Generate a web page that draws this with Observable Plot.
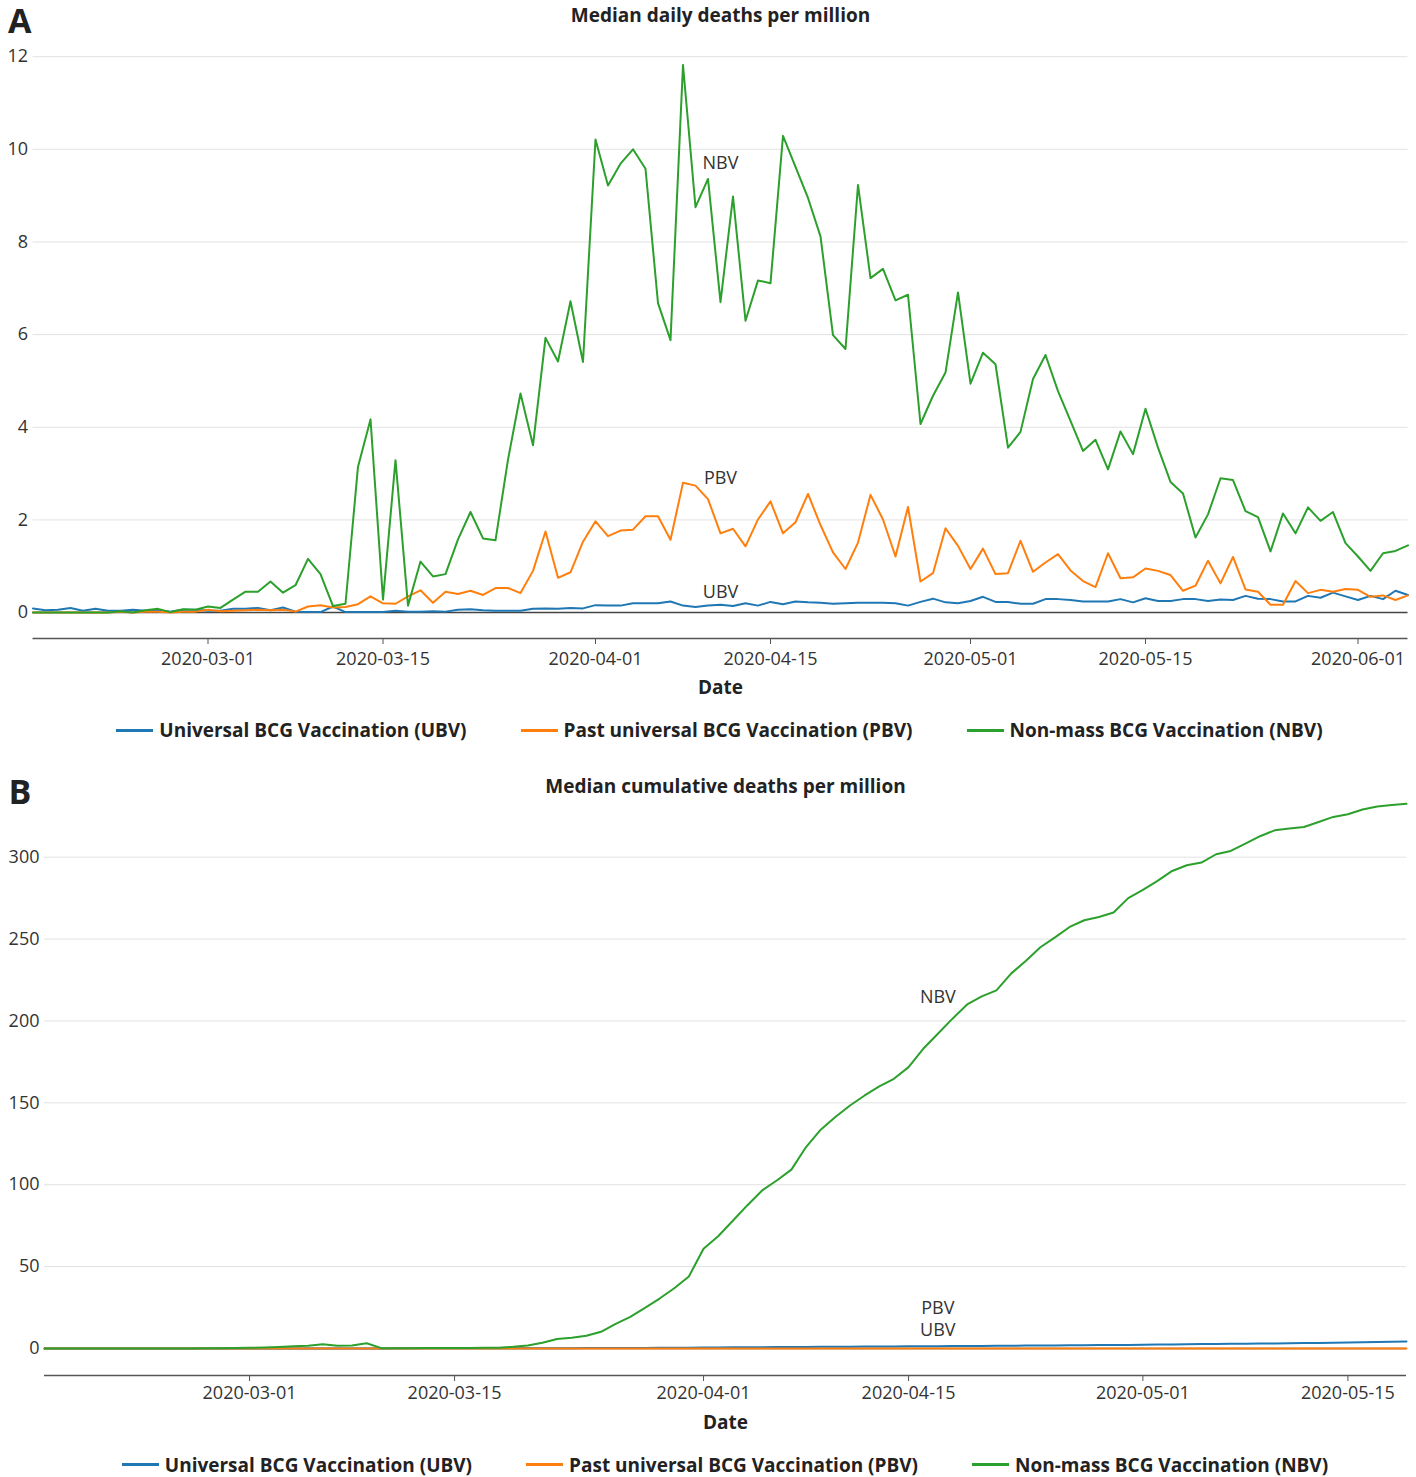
<!DOCTYPE html>
<html><head><meta charset="utf-8">
<script src="https://cdn.jsdelivr.net/npm/d3@7"></script>
<script src="https://cdn.jsdelivr.net/npm/@observablehq/plot@0.6"></script>
<style>
body{margin:0;background:#fff;font-family:"Open Sans",sans-serif;}
#wrap{width:1416px;}
.legend{display:flex;justify-content:center;align-items:center;font-weight:bold;font-size:19px;color:#222;font-family:"Open Sans",sans-serif;}
.item{display:flex;align-items:center;margin:0 27px;white-space:nowrap;}
.sw{width:37px;height:3px;margin-right:6px;}
svg text{font-family:"Open Sans",sans-serif;}
</style></head><body><div id="wrap"></div>
<script>
// ---------- data ----------
const startDate = "2020-02-16";
const seriesKeys = ["UBV", "PBV", "NBV"];
const seriesNames = ["Universal BCG Vaccination (UBV)", "Past universal BCG Vaccination (PBV)", "Non-mass BCG Vaccination (NBV)"];
const seriesColors = ["#1f77b4", "#ff7f0e", "#2ca02c"];

// Panel A: median daily deaths per million (2020-02-16 .. 2020-06-05)
const ubvDaily = [0.09,0.05,0.06,0.10,0.04,0.08,0.04,0.04,0.06,0.04,0.05,0.02,0.06,0.06,0.04,0.04,0.08,0.08,0.10,
0.05,0.11,0.02,0.01,0.01,0.13,0.01,0.01,0.01,0.01,0.04,0.02,0.02,0.03,0.02,0.06,0.07,
0.05,0.04,0.04,0.04,0.08,0.09,0.08,0.10,0.09,0.16,0.15,0.15,0.20,0.20,0.20,0.24,0.15,0.12,0.15,
0.17,0.14,0.20,0.15,0.23,0.18,0.24,0.22,0.21,0.19,0.20,0.21,0.21,0.21,0.20,0.15,0.23,0.30,
0.22,0.20,0.25,0.34,0.23,0.23,0.19,0.19,0.29,0.29,0.27,0.24,0.24,0.24,0.29,0.22,0.31,0.25,
0.25,0.29,0.29,0.25,0.28,0.27,0.36,0.30,0.29,0.24,0.24,0.36,0.32,0.43,0.35,0.27,0.36,0.29,0.47,0.38];
const pbvDaily = [0,0,0,0,0,0,0,0.02,0,0.02,0.02,0,0.02,0.02,0.06,0.03,0.04,0.05,0.06,0.05,0.06,
0.02,0.13,0.16,0.11,0.12,0.18,0.35,0.20,0.19,0.35,0.48,0.21,0.45,0.40,0.47,
0.38,0.53,0.53,0.42,0.90,1.75,0.75,0.87,1.53,1.97,1.65,1.77,1.79,2.08,2.08,1.57,2.80,2.74,2.45,
1.71,1.81,1.43,2.01,2.40,1.71,1.95,2.56,1.89,1.30,0.94,1.51,2.54,2.01,1.21,2.28,0.67,0.85,
1.82,1.44,0.94,1.38,0.83,0.85,1.55,0.88,1.08,1.26,0.91,0.68,0.55,1.28,0.74,0.76,0.95,0.90,
0.81,0.47,0.58,1.12,0.63,1.20,0.50,0.45,0.17,0.17,0.68,0.42,0.49,0.45,0.51,0.49,0.34,0.37,0.27,0.37];
const nbvDaily = [0,0,0,0,0,0,0,0.03,0,0.05,0.08,0.01,0.07,0.06,0.13,0.10,0.28,0.45,0.45,
0.67,0.43,0.59,1.16,0.83,0.14,0.19,3.15,4.17,0.28,3.29,0.15,
1.10,0.78,0.83,1.58,2.17,1.60,1.56,3.30,4.73,3.61,5.93,5.42,6.72,5.41,
10.21,9.22,9.69,10.00,9.58,6.68,5.88,11.82,8.75,9.36,
6.70,8.98,6.30,7.17,7.11,10.29,9.62,8.95,8.12,5.99,5.69,9.23,7.22,7.42,6.74,6.86,4.07,
4.68,5.18,6.91,4.94,5.61,5.36,3.56,3.90,5.04,5.56,4.78,4.14,3.49,3.73,3.09,3.91,3.42,4.40,
3.56,2.82,2.57,1.62,2.12,2.90,2.86,2.19,2.06,1.32,2.14,1.71,2.27,1.98,2.17,1.50,1.21,0.90,1.28,1.33,1.45];

// Panel B: median cumulative deaths per million (2020-02-16 .. 2020-05-19)
const ubvCum = [0,0,0,0,0,0,0,0,0,0,0,0,0,0,0,0.01,0.02,0.02,0.03,0.03,
0.04,0.05,0.05,0.06,0.07,0.08,0.08,0.09,0.10,0.11,
0.12,0.13,0.14,0.15,0.17,0.19,0.21,0.23,0.25,0.28,
0.31,0.35,0.40,0.44,0.50,0.56,0.62,0.68,0.73,0.79,
0.85,0.90,0.95,1.00,1.05,1.10,1.16,1.20,1.25,1.30,
1.35,1.40,1.46,1.52,1.58,1.64,1.70,1.76,1.82,1.88,
1.94,2.00,2.06,2.12,2.20,2.30,2.40,2.50,2.58,2.66,
2.74,2.82,2.90,3.00,3.10,3.20,3.30,3.40,3.50,3.60,
3.75,3.90,4.05,4.20];
const pbvCum = [0,0,0,0,0,0,0,0,0,0,0,0,0,0,0,0,0,0,0,0,0,0,0,0,0,0,0,0,0,0,0,
0,0,0,0,0,0,0,0,0,0,0,0,0,0,0,0,0,0,0,0,0,0,0,0,0,0,0,0,0,0,0,
0,0,0,0,0,0,0,0,0,0,0,0,0,0,0,0,0,0,0,0,0,0,0,0,0,0,0,0,0,0,0,0];
const nbvCum = [0,0,0,0,0,0,0,0,0,0,
0.05,0.1,0.2,0.3,0.45,0.6,0.9,1.3,1.7,2.6,1.6,1.8,3.2,0.2,
0.2,0.2,0.25,0.3,0.3,0.35,0.4,0.4,1.0,1.8,3.5,5.8,6.5,7.8,10.2,15.0,19.3,24.8,30.5,36.8,44.0,
60.9,68.5,78,87.5,96.5,102.6,109.2,123,133.6,141.3,148.4,154.5,160,164.7,171.8,
183,192.2,201.4,210.1,215,218.7,228.9,236.6,245,251,257.4,261.5,263.5,266.2,275,280,285.5,291.6,295.1,296.7,
301.8,303.8,308.3,312.8,316.4,317.5,318.4,321.5,324.6,326.2,329.1,331.0,331.8,332.6];

// axes ticks
const xTicksA = ["2020-03-01","2020-03-15","2020-04-01","2020-04-15","2020-05-01","2020-05-15","2020-06-01"];
const xTicksB = ["2020-03-01","2020-03-15","2020-04-01","2020-04-15","2020-05-01","2020-05-15"];
const yTicksA = [0,2,4,6,8,10,12];
const yTicksB = [0,50,100,150,200,250,300];

// in-chart series labels (annotation anchors)
const labelDateA = "2020-04-11";
const labelValuesA = {NBV: 9.69, PBV: 2.91, UBV: 0.43};
const labelDateB = "2020-04-17";
const labelValuesB = {NBV: 214.4, PBV: 24.4, UBV: 11.0};

// ---------- build ----------
const parse = d3.utcParse("%Y-%m-%d");
const t0 = parse(startDate);
function longTable(arrs) {
  const out = [];
  arrs.forEach((arr, k) => arr.forEach((v, i) => out.push({date: d3.utcDay.offset(t0, i), value: v, series: seriesKeys[k]})));
  return out;
}
const tableA = longTable([ubvDaily, pbvDaily, nbvDaily]);
const tableB = longTable([ubvCum, pbvCum, nbvCum]);
const endA = d3.utcDay.offset(t0, nbvDaily.length - 1);
const endB = d3.utcDay.offset(t0, nbvCum.length - 1);
const labelsA = seriesKeys.map(k => ({date: parse(labelDateA), value: labelValuesA[k], name: k}));
const labelsB = seriesKeys.map(k => ({date: parse(labelDateB), value: labelValuesB[k], name: k}));
const fmt = d3.utcFormat("%Y-%m-%d");

function panel(o) {
  return Plot.plot({
    width: 1416, height: o.height,
    marginLeft: o.ml, marginRight: o.mr, marginTop: o.mt, marginBottom: o.mb,
    style: {fontFamily: "Open Sans, sans-serif", fontSize: "18px", color: "#333", background: "white", overflow: "visible"},
    x: {type: "utc", domain: o.xdom},
    y: {domain: o.ydom},
    color: {domain: seriesKeys, range: seriesColors},
    marks: [
      Plot.gridY(o.yticks, {stroke: "#e2e2e2", strokeOpacity: 1, strokeWidth: 1}),
      Plot.ruleY([0], {stroke: "#444", strokeWidth: 1.5}),
      Plot.ruleY([o.ydom[0]], {stroke: "#555", strokeWidth: 1.5}),
      Plot.line(o.data, {x: "date", y: "value", z: "series", stroke: "series", strokeWidth: 2}),
      Plot.axisY(o.yticks, {tickSize: 0, tickPadding: 5, fontSize: 18, label: null}),
      Plot.axisX(o.xticks.map(parse), {tickSize: 6, tickPadding: o.tp, tickFormat: fmt, fontSize: 18, label: null, stroke: "#555"}),
      Plot.text(o.labels, {x: "date", y: "value", text: "name", fontSize: 18, fill: "#333"}),
      Plot.text(["Date"], {frameAnchor: "bottom", lineAnchor: "middle", dy: o.dateDy, fontWeight: "bold", fontSize: 19, fill: "#222"}),
      Plot.text([o.title], {frameAnchor: "top", lineAnchor: "middle", dy: o.titleDy, fontWeight: "bold", fontSize: 19, fill: "#222"}),
      Plot.text([o.letter], {frameAnchor: "top-left", lineAnchor: "middle", textAnchor: "start", dx: o.letterDx, dy: o.letterDy, fontWeight: "bold", fontSize: 34, fill: "#222"})
    ]
  });
}

function legend(h, shift) {
  const div = document.createElement("div");
  div.className = "legend";
  div.style.height = h + "px";
  div.style.paddingLeft = shift + "px";
  seriesNames.forEach((n, k) => {
    const it = document.createElement("div");
    it.className = "item";
    const sw = document.createElement("div");
    sw.className = "sw";
    sw.style.background = seriesColors[k];
    const tx = document.createElement("span");
    tx.textContent = n;
    it.appendChild(sw); it.appendChild(tx);
    div.appendChild(it);
  });
  return div;
}

const wrap = document.getElementById("wrap");
wrap.appendChild(panel({
  height: 700, ml: 32.5, mr: 8.5, mt: 33, mb: 62,
  xdom: [t0, endA], ydom: [-0.56, 12.5], yticks: yTicksA, xticks: xTicksA, tp: 8,
  data: tableA, labels: labelsA, dateDy: 49, title: "Median daily deaths per million", titleDy: -18,
  letter: "A", letterDx: -25, letterDy: -11
}));
wrap.appendChild(legend(60, 23));
wrap.appendChild(panel({
  height: 680, ml: 44, mr: 10, mt: 23, mb: 65,
  xdom: [t0, endB], ydom: [-16.5, 345], yticks: yTicksB, xticks: xTicksB, tp: 5,
  data: tableB, labels: labelsB, dateDy: 47, title: "Median cumulative deaths per million", titleDy: 3,
  letter: "B", letterDx: -36, letterDy: 10
}));
wrap.appendChild(legend(49, 34));
</script></body></html>
